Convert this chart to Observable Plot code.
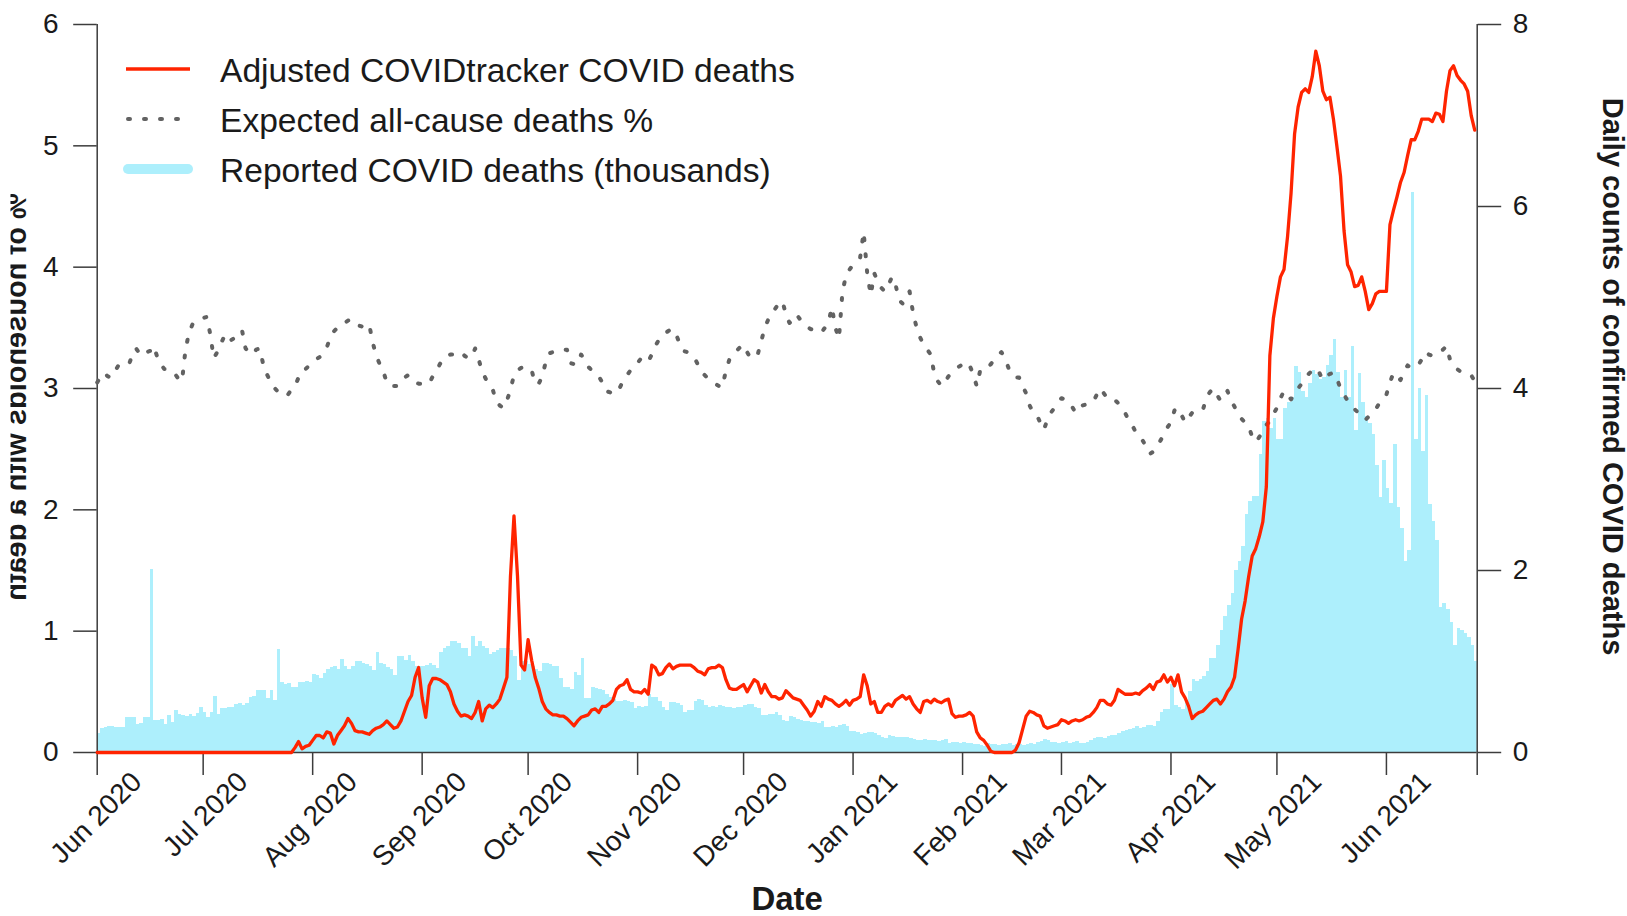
<!DOCTYPE html>
<html>
<head>
<meta charset="utf-8">
<script src="https://cdn.jsdelivr.net/npm/d3@7"></script>
<script src="https://cdn.jsdelivr.net/npm/@observablehq/plot@0.6"></script>
<style>
  html, body { margin: 0; padding: 0; background: #fff; }
  #wrap { position: relative; width: 1627px; height: 916px; overflow: hidden; }
  #legend { position: absolute; left: 0; top: 0; }
</style>
</head>
<body>
<div id="wrap"></div>
<script>
// ---------- DATA (daily, starting 2020-06-01) ----------
const startDate = "2020-06-01";
const monthLabels = ["Jun 2020","Jul 2020","Aug 2020","Sep 2020","Oct 2020","Nov 2020","Dec 2020","Jan 2021","Feb 2021","Mar 2021","Apr 2021","May 2021","Jun 2021"];
const leftTicks = [0, 1, 2, 3, 4, 5, 6];
const rightTicks = [0, 2, 4, 6, 8];
const legendLabels = ["Adjusted COVIDtracker COVID deaths", "Expected all-cause deaths %", "Reported COVID deaths (thousands)"];
const leftTitle = "% of households with a death";
const rightTitle = "Daily counts of confirmed COVID deaths";
const xTitle = "Date";

// Reported COVID deaths (thousands) – right axis
const rep_jun20 = [0.21,0.26,0.28,0.29,0.29,0.27,0.27,0.27,0.38,0.39,0.39,0.31,0.32,0.39,0.39,2.01,0.35,0.35,0.36,0.31,0.41,0.33,0.46,0.42,0.41,0.40,0.42,0.40,0.43,0.50];
const rep_jul20 = [0.44,0.39,0.44,0.61,0.42,0.48,0.48,0.49,0.50,0.53,0.54,0.52,0.54,0.60,0.62,0.68,0.68,0.68,0.59,0.68,0.57,1.13,0.77,0.75,0.76,0.71,0.71,0.77,0.77,0.78,0.77];
const rep_aug20 = [0.86,0.85,0.81,0.87,0.91,0.93,0.95,0.91,1.02,0.95,0.91,0.95,1.00,1.00,0.98,0.97,0.95,0.90,1.10,0.98,0.97,0.93,0.91,0.85,1.06,1.06,1.01,1.07,1.00,0.95,0.95];
const rep_sep20 = [0.95,0.96,0.98,0.96,0.92,1.10,1.14,1.16,1.22,1.22,1.20,1.14,1.14,1.06,1.27,1.17,1.22,1.16,1.14,1.08,1.10,1.12,1.14,1.14,1.14,1.12,1.06,0.79,1.00,1.00];
const rep_oct20 = [0.97,0.95,0.91,0.89,0.98,0.98,0.97,0.95,0.95,0.81,0.71,0.71,0.69,0.88,0.85,1.03,0.59,0.59,0.71,0.70,0.69,0.68,0.64,0.60,0.58,0.56,0.56,0.57,0.56,0.55,0.48];
const rep_nov20 = [0.51,0.50,0.51,0.64,0.60,0.60,0.56,0.50,0.46,0.55,0.55,0.54,0.52,0.44,0.46,0.46,0.56,0.58,0.57,0.52,0.50,0.51,0.50,0.52,0.51,0.50,0.49,0.48,0.49,0.50];
const rep_dec20 = [0.52,0.53,0.53,0.50,0.48,0.41,0.41,0.42,0.42,0.44,0.41,0.35,0.34,0.40,0.38,0.36,0.35,0.34,0.34,0.33,0.33,0.32,0.34,0.27,0.28,0.29,0.28,0.30,0.31,0.29,0.23];
const rep_jan21 = [0.23,0.22,0.20,0.21,0.22,0.22,0.21,0.19,0.17,0.15,0.19,0.18,0.17,0.17,0.16,0.16,0.15,0.14,0.13,0.13,0.14,0.13,0.13,0.13,0.12,0.13,0.14,0.10,0.11,0.11,0.10];
const rep_feb21 = [0.11,0.10,0.10,0.09,0.09,0.08,0.07,0.10,0.09,0.09,0.08,0.09,0.09,0.10,0.08,0.09,0.09,0.08,0.09,0.10,0.09,0.11,0.12,0.14,0.13,0.11,0.11,0.10];
const rep_mar21 = [0.11,0.12,0.10,0.11,0.12,0.10,0.10,0.11,0.13,0.15,0.17,0.17,0.15,0.18,0.19,0.19,0.21,0.23,0.24,0.25,0.26,0.29,0.26,0.28,0.30,0.30,0.29,0.34,0.44,0.47,0.47];
const rep_apr21 = [0.75,0.52,0.50,0.47,0.57,0.67,0.80,0.78,0.80,0.83,0.89,1.03,1.03,1.18,1.34,1.49,1.62,1.75,2.00,2.10,2.26,2.62,2.76,2.81,2.81,3.28,3.64,3.67,3.56,3.67];
const rep_may21 = [3.44,3.44,3.78,3.85,3.90,4.24,4.18,3.97,3.90,4.05,4.20,4.15,4.10,4.12,4.25,4.36,4.54,4.18,3.90,4.20,3.90,4.46,3.54,4.16,3.85,3.69,3.61,3.49,3.15,2.80,3.21];
const rep_jun21 = [2.90,2.74,3.38,2.69,2.46,2.10,2.22,6.15,3.44,4.00,3.31,3.92,2.73,2.54,2.33,1.59,1.64,1.57,1.43,1.18,1.36,1.34,1.31,1.26,1.18,1.00];

// Adjusted COVIDtracker COVID deaths – left axis
const adj_jun20 = [0,0,0,0,0,0,0,0,0,0,0,0,0,0,0,0,0,0,0,0,0,0,0,0,0,0,0,0,0,0];
const adj_jul20 = [0,0,0,0,0,0,0,0,0,0,0,0,0,0,0,0,0,0,0,0,0,0,0,0,0,0,0.04,0.09,0.03,0.05,0.06];
const adj_aug20 = [0.10,0.14,0.14,0.12,0.17,0.16,0.07,0.14,0.18,0.22,0.28,0.24,0.18,0.17,0.17,0.16,0.15,0.18,0.20,0.21,0.23,0.26,0.23,0.20,0.21,0.26,0.34,0.42,0.47,0.62,0.70];
const adj_sep20 = [0.45,0.29,0.55,0.61,0.61,0.60,0.58,0.56,0.50,0.40,0.34,0.30,0.31,0.30,0.28,0.33,0.42,0.26,0.36,0.39,0.37,0.40,0.44,0.53,0.62,1.45,1.95,1.45,0.72,0.68];
const adj_oct20 = [0.93,0.76,0.62,0.53,0.42,0.36,0.33,0.31,0.31,0.30,0.30,0.28,0.25,0.22,0.26,0.29,0.30,0.31,0.35,0.36,0.33,0.38,0.38,0.40,0.43,0.52,0.55,0.56,0.60,0.52,0.50];
const adj_nov20 = [0.50,0.49,0.52,0.48,0.72,0.70,0.64,0.65,0.70,0.73,0.69,0.71,0.72,0.72,0.72,0.72,0.70,0.67,0.66,0.64,0.69,0.70,0.70,0.72,0.70,0.60,0.53,0.52,0.52,0.54];
const adj_dec20 = [0.56,0.50,0.55,0.60,0.58,0.49,0.56,0.50,0.46,0.46,0.44,0.45,0.51,0.48,0.45,0.44,0.43,0.39,0.35,0.30,0.34,0.42,0.38,0.46,0.44,0.43,0.40,0.38,0.40,0.43,0.39];
const adj_jan21 = [0.43,0.44,0.46,0.64,0.55,0.40,0.42,0.33,0.33,0.38,0.40,0.38,0.43,0.45,0.47,0.44,0.46,0.40,0.36,0.33,0.42,0.43,0.41,0.44,0.42,0.41,0.43,0.44,0.32,0.29,0.30];
const adj_feb21 = [0.30,0.31,0.33,0.30,0.17,0.12,0.10,0.06,0.01,0,0,0,0,0,0,0.02,0.08,0.19,0.30,0.34,0.33,0.31,0.30,0.22,0.20,0.21,0.22,0.23];
const adj_mar21 = [0.27,0.26,0.24,0.26,0.27,0.26,0.27,0.29,0.30,0.33,0.37,0.43,0.43,0.40,0.39,0.43,0.52,0.50,0.48,0.48,0.48,0.49,0.48,0.51,0.53,0.56,0.52,0.58,0.59,0.64,0.58];
const adj_apr21 = [0.62,0.55,0.64,0.50,0.45,0.38,0.28,0.31,0.33,0.34,0.37,0.40,0.43,0.44,0.40,0.44,0.50,0.54,0.62,0.85,1.10,1.25,1.45,1.62,1.68,1.78,1.90,2.19,3.27,3.58];
const adj_may21 = [3.76,3.92,3.98,4.25,4.61,5.10,5.32,5.44,5.47,5.44,5.57,5.78,5.66,5.45,5.38,5.40,5.22,4.99,4.75,4.30,4.02,3.96,3.84,3.85,3.92,3.80,3.65,3.70,3.78,3.80,3.80];
const adj_jun21 = [3.80,4.35,4.47,4.58,4.70,4.78,4.92,5.05,5.05,5.12,5.22,5.22,5.22,5.20,5.27,5.26,5.20,5.45,5.62,5.66,5.58,5.54,5.51,5.45,5.25,5.13];

// Expected all-cause deaths % – left axis
const exp_jun20 = [3.05,3.10,3.13,3.10,3.09,3.14,3.19,3.20,3.20,3.20,3.28,3.33,3.29,3.27,3.30,3.31,3.35,3.26,3.20,3.16,3.16,3.14,3.12,3.08,3.06,3.32,3.46,3.53,3.55,3.56];
const exp_jul20 = [3.58,3.59,3.45,3.25,3.30,3.37,3.43,3.45,3.40,3.42,3.46,3.48,3.33,3.30,3.28,3.32,3.33,3.20,3.12,3.06,3.01,2.98,2.95,2.94,2.95,2.99,3.02,3.09,3.15,3.16,3.19];
const exp_aug20 = [3.21,3.24,3.26,3.30,3.34,3.42,3.47,3.50,3.53,3.54,3.56,3.57,3.55,3.52,3.51,3.52,3.53,3.38,3.27,3.20,3.14,3.05,3.02,3.02,3.02,3.06,3.09,3.11,3.08,3.05,3.04];
const exp_sep20 = [3.04,3.04,3.04,3.10,3.14,3.20,3.25,3.27,3.28,3.28,3.29,3.30,3.27,3.25,3.26,3.33,3.24,3.14,3.08,3.03,2.99,2.89,2.86,2.84,2.90,2.99,3.11,3.15,3.17,3.18];
const exp_oct20 = [3.17,3.15,3.04,3.04,3.10,3.22,3.29,3.30,3.31,3.31,3.32,3.32,3.21,3.20,3.20,3.28,3.24,3.18,3.15,3.12,3.10,3.05,2.98,2.97,2.96,2.96,3.01,3.07,3.11,3.15,3.18];
const exp_nov20 = [3.21,3.25,3.24,3.22,3.28,3.35,3.40,3.44,3.46,3.48,3.49,3.44,3.36,3.31,3.30,3.28,3.26,3.20,3.14,3.11,3.08,3.06,3.04,3.02,3.01,3.15,3.24,3.28,3.31,3.34];
const exp_dec20 = [3.36,3.30,3.25,3.26,3.28,3.39,3.50,3.57,3.62,3.66,3.70,3.72,3.61,3.54,3.56,3.61,3.57,3.53,3.51,3.49,3.48,3.47,3.46,3.50,3.54,3.67,3.50,3.41,3.80,3.93,3.98];
const exp_jan21 = [4.02,4.05,4.08,4.29,3.95,3.77,3.95,3.88,3.83,3.80,3.85,3.92,3.86,3.73,3.70,3.76,3.80,3.62,3.50,3.42,3.36,3.32,3.28,3.12,3.06,3.02,3.05,3.10,3.13,3.16,3.18];
const exp_feb21 = [3.20,3.22,3.19,3.12,3.02,3.15,3.17,3.17,3.20,3.24,3.27,3.30,3.25,3.17,3.12,3.09,3.09,3.02,2.96,2.86,2.80,2.78,2.72,2.66,2.74,2.80,2.84,2.88];
const exp_mar21 = [2.92,2.91,2.89,2.85,2.80,2.83,2.86,2.87,2.88,2.89,2.95,3.00,2.96,2.92,2.91,2.91,2.88,2.84,2.80,2.74,2.70,2.64,2.60,2.57,2.52,2.46,2.48,2.53,2.57,2.62,2.68];
const exp_apr21 = [2.72,2.82,2.84,2.78,2.72,2.76,2.80,2.81,2.81,2.82,2.92,2.97,3.00,2.95,2.90,2.94,2.98,2.90,2.85,2.79,2.75,2.72,2.69,2.60,2.56,2.60,2.64,2.70,2.73,2.79];
const exp_may21 = [2.84,2.92,2.98,2.95,2.91,2.96,3.00,3.04,3.08,3.12,3.15,3.17,3.13,3.07,3.10,3.12,3.13,3.08,3.00,2.95,2.90,2.87,2.83,2.80,2.77,2.74,2.77,2.80,2.83,2.88,2.92];
const exp_jun21 = [2.95,3.05,3.13,3.10,3.07,3.14,3.19,3.17,3.18,3.19,3.24,3.30,3.28,3.27,3.28,3.30,3.32,3.35,3.24,3.20,3.16,3.14,3.13,3.12,3.11,3.06];

// ---------- BUILD ----------
const reported = [].concat(rep_jun20,rep_jul20,rep_aug20,rep_sep20,rep_oct20,rep_nov20,rep_dec20,rep_jan21,rep_feb21,rep_mar21,rep_apr21,rep_may21,rep_jun21);
const adjusted = [].concat(adj_jun20,adj_jul20,adj_aug20,adj_sep20,adj_oct20,adj_nov20,adj_dec20,adj_jan21,adj_feb21,adj_mar21,adj_apr21,adj_may21,adj_jun21);
const expected = [].concat(exp_jun20,exp_jul20,exp_aug20,exp_sep20,exp_oct20,exp_nov20,exp_dec20,exp_jan21,exp_feb21,exp_mar21,exp_apr21,exp_may21,exp_jun21);

const DAY = 864e5;
const t0 = Date.parse(startDate + "T00:00:00Z");
const dateOf = i => new Date(t0 + i * DAY);
const RATIO = 6 / 8; // right axis 0–8 maps onto left axis 0–6

const barData = reported.map((v, i) => ({x1: dateOf(i), x2: dateOf(i + 1), y: v * RATIO}));
const adjData = adjusted.map((v, i) => ({date: dateOf(i), v}));
const expData = expected.map((v, i) => ({date: dateOf(i), v}));

const xStart = dateOf(0);
const xEnd = new Date(t0 + 390.7 * DAY);
const monthTicks = monthLabels.map((s, k) => new Date(Date.UTC(2020, 5 + k, 1)));

const RED = "#FF2400", CYAN = "#ADEFFC", GRAY = "#626262", AXIS = "#3c3c3c", INK = "#1a1a1a";
const FONT = "'Liberation Sans', Arial, Helvetica, sans-serif";

const chart = Plot.plot({
  width: 1627,
  height: 916,
  marginLeft: 96.7,
  marginRight: 150.3,
  marginTop: 24,
  marginBottom: 164,
  x: {type: "utc", domain: [xStart, xEnd]},
  y: {domain: [0, 6]},
  style: {fontFamily: FONT, fontSize: "28px", color: INK, background: "white"},
  marks: [
    Plot.rectY(barData, {x1: "x1", x2: "x2", y1: 0, y2: "y", fill: CYAN, clip: true, shapeRendering: "crispEdges"}),
    Plot.ruleY([0], {stroke: AXIS, strokeWidth: 1.5}),
    Plot.ruleX([xStart, xEnd], {y1: 0, y2: 6, stroke: AXIS, strokeWidth: 1.5}),
    Plot.axisY({anchor: "left", ticks: leftTicks, tickFormat: d => String(d), tickSize: 23.5, tickPadding: 15, label: null, stroke: AXIS, strokeWidth: 1.5, fill: INK}),
    Plot.axisY({anchor: "right", ticks: rightTicks.map(v => v * RATIO), tickFormat: v => String(Math.round(v / RATIO)), tickSize: 23.5, tickPadding: 12, label: null, stroke: AXIS, strokeWidth: 1.5, fill: INK}),
    Plot.axisX({ticks: [...monthTicks, xEnd], tickSize: 23, tickFormat: () => "", label: null, stroke: AXIS, strokeWidth: 1.5}),
    Plot.text(monthTicks, {x: d => d, text: (d, i) => monthLabels[i], frameAnchor: "bottom", rotate: -45, textAnchor: "end", lineAnchor: "bottom", dx: 46, dy: 31, fontSize: 28, fill: INK}),
    Plot.text([xTitle], {text: d => d, frameAnchor: "bottom", lineAnchor: "bottom", dy: 157, fontSize: 33, fontWeight: "bold", fill: INK}),
    Plot.text([leftTitle], {text: d => d, frameAnchor: "left", rotate: 90, lineAnchor: "bottom", textAnchor: "middle", dx: -71.7, dy: 8.5, fontSize: 29, fontWeight: "bold", fill: INK}),
    Plot.text([rightTitle], {text: d => d, frameAnchor: "right", rotate: 90, lineAnchor: "bottom", textAnchor: "middle", dx: 125.3, dy: -12, fontSize: 29, fontWeight: "bold", fill: INK}),
    Plot.line(expData, {x: "date", y: "v", stroke: GRAY, strokeWidth: 4, strokeDasharray: "2,14", strokeLinecap: "round"}),
    Plot.line(adjData, {x: "date", y: "v", stroke: RED, strokeWidth: 3.3})
  ]
});

// The left title in the original is drawn mirrored (glyph tops toward the page edge)
// and cropped by the figure edge: reproduce that on the real text element.
const svgNS = "http://www.w3.org/2000/svg";
const lt = Array.from(chart.querySelectorAll("text")).find(t => t.textContent === leftTitle);
if (lt) {
  lt.setAttribute("transform", (lt.getAttribute("transform") || "") + " scale(1,-1)");
  const markG = lt.parentNode;
  const defs = document.createElementNS(svgNS, "defs");
  const cp = document.createElementNS(svgNS, "clipPath");
  cp.setAttribute("id", "left-title-crop");
  const r = document.createElementNS(svgNS, "rect");
  r.setAttribute("x", 10.5); r.setAttribute("y", 0);
  r.setAttribute("width", 60); r.setAttribute("height", 916);
  cp.appendChild(r); defs.appendChild(cp);
  chart.insertBefore(defs, chart.firstChild);
  const holder = document.createElementNS(svgNS, "g");
  holder.setAttribute("clip-path", "url(#left-title-crop)");
  markG.parentNode.insertBefore(holder, markG);
  holder.appendChild(markG);
}

const wrap = document.getElementById("wrap");
wrap.appendChild(chart);

// ---------- LEGEND (overlay) ----------
const leg = document.createElementNS(svgNS, "svg");
leg.setAttribute("id", "legend");
leg.setAttribute("width", "820");
leg.setAttribute("height", "200");
leg.setAttribute("font-family", FONT);
const samples = [
  {y: 69, stroke: RED, width: 3.3, dash: null, cap: "butt", x1: 126, x2: 190},
  {y: 119, stroke: GRAY, width: 4, dash: "2,14", cap: "round", x1: 128, x2: 180},
  {y: 169, stroke: CYAN, width: 10, dash: null, cap: "round", x1: 128, x2: 188}
];
samples.forEach((s, i) => {
  const ln = document.createElementNS(svgNS, "line");
  ln.setAttribute("x1", s.x1); ln.setAttribute("x2", s.x2);
  ln.setAttribute("y1", s.y); ln.setAttribute("y2", s.y);
  ln.setAttribute("stroke", s.stroke);
  ln.setAttribute("stroke-width", s.width);
  ln.setAttribute("stroke-linecap", s.cap);
  if (s.dash) ln.setAttribute("stroke-dasharray", s.dash);
  leg.appendChild(ln);
  const tx = document.createElementNS(svgNS, "text");
  tx.setAttribute("x", 220);
  tx.setAttribute("y", s.y + 12.5);
  tx.setAttribute("font-size", "33.6");
  tx.setAttribute("fill", INK);
  tx.textContent = legendLabels[i];
  leg.appendChild(tx);
});
wrap.appendChild(leg);
</script>
</body>
</html>
